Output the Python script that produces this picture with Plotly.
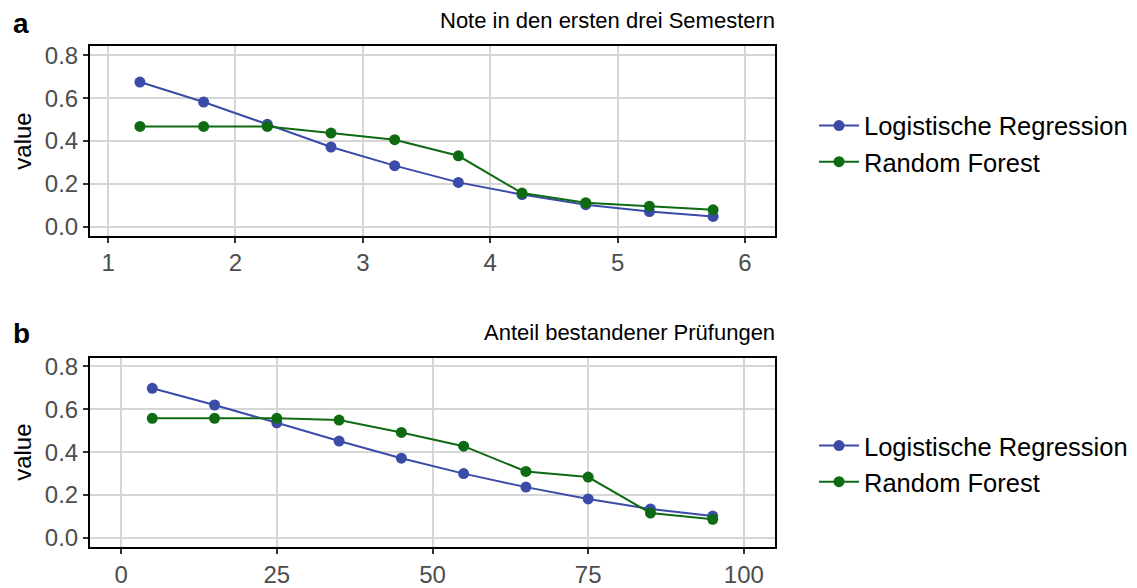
import plotly.graph_objects as go

# Panel a: Note in den ersten drei Semestern
x_a = [1.25, 1.75, 2.25, 2.75, 3.25, 3.75, 4.25, 4.75, 5.25, 5.75]
lr_a = [0.675, 0.582, 0.478, 0.372, 0.285, 0.207, 0.150, 0.103, 0.071, 0.048]
rf_a = [0.468, 0.468, 0.468, 0.437, 0.406, 0.331, 0.157, 0.112, 0.096, 0.079]

# Panel b: Anteil bestandener Prüfungen
x_b = [5, 15, 25, 35, 45, 55, 65, 75, 85, 95]
lr_b = [0.698, 0.620, 0.537, 0.452, 0.372, 0.300, 0.237, 0.182, 0.135, 0.102]
rf_b = [0.558, 0.558, 0.558, 0.550, 0.492, 0.428, 0.310, 0.284, 0.116, 0.087]

series_names = ["Logistische Regression", "Random Forest"]
colors = ["#3A4BA8", "#0F6B12"]

W, H = 1137, 588
OFF = 8  # page body margin offset
FONT = "Liberation Sans, Arial, sans-serif"

def px_x(p):
    return (p - OFF) / W

def px_y(p):
    return 1 - (p - OFF) / H

fig = go.Figure()

panels = [
    (x_a, [lr_a, rf_a], "x", "y", "legend"),
    (x_b, [lr_b, rf_b], "x2", "y2", "legend2"),
]
for xs, ys_list, xa, ya, lg in panels:
    for name, ys, c in zip(series_names, ys_list, colors):
        fig.add_trace(go.Scatter(
            x=xs, y=ys, name=name, mode="lines+markers",
            line=dict(color=c, width=2),
            marker=dict(color=c, size=11),
            xaxis=xa, yaxis=ya, legend=lg,
        ))

xdom = [px_x(90), px_x(775)]
axis_common = dict(
    showline=True, linecolor="black", linewidth=2, mirror=True,
    showgrid=True, gridcolor="#D6D6D6", gridwidth=1.6,
    ticks="outside", ticklen=5, tickwidth=1.5, tickcolor="#333333",
    tickfont=dict(family=FONT, size=24, color="#4D4D4D"),
    zeroline=False,
)
ytitle = dict(text="value", font=dict(family=FONT, size=24, color="black"), standoff=6)

fig.update_layout(
    width=W, height=H,
    margin=dict(l=0, r=0, t=0, b=0),
    plot_bgcolor="white", paper_bgcolor="white",
    font=dict(family=FONT),
    xaxis=dict(domain=xdom, anchor="y", range=[0.858, 6.236],
               tickvals=[1, 2, 3, 4, 5, 6], **axis_common),
    yaxis=dict(domain=[px_y(234), px_y(42)], anchor="x", range=[-0.041, 0.841],
               tickvals=[0, 0.2, 0.4, 0.6, 0.8], tickformat=".1f",
               title=ytitle, **axis_common),
    xaxis2=dict(domain=xdom, anchor="y2", range=[-5, 105],
                tickvals=[0, 25, 50, 75, 100], **axis_common),
    yaxis2=dict(domain=[px_y(550), px_y(358)], anchor="x2", range=[-0.041, 0.841],
                tickvals=[0, 0.2, 0.4, 0.6, 0.8], tickformat=".1f",
                title=ytitle, **axis_common),
    legend=dict(x=px_x(814), y=px_y(141), yanchor="middle", xanchor="left",
                font=dict(family=FONT, size=25.5, color="black"),
                bgcolor="rgba(0,0,0,0)", itemwidth=40, tracegroupgap=0),
    legend2=dict(x=px_x(814), y=px_y(466), yanchor="middle", xanchor="left",
                 font=dict(family=FONT, size=25.5, color="black"),
                 bgcolor="rgba(0,0,0,0)", itemwidth=40, tracegroupgap=0),
    annotations=[
        dict(text="<b>a</b>", x=px_x(11), y=px_y(19), xref="paper", yref="paper",
             xanchor="left", yanchor="middle", showarrow=False,
             font=dict(family=FONT, size=28, color="black")),
        dict(text="Note in den ersten drei Semestern", x=px_x(777), y=px_y(16),
             xref="paper", yref="paper", xanchor="right", yanchor="middle",
             showarrow=False, font=dict(family=FONT, size=22, color="black")),
        dict(text="<b>b</b>", x=px_x(11), y=px_y(333), xref="paper", yref="paper",
             xanchor="left", yanchor="middle", showarrow=False,
             font=dict(family=FONT, size=28, color="black")),
        dict(text="Anteil bestandener Prüfungen", x=px_x(777), y=px_y(332),
             xref="paper", yref="paper", xanchor="right", yanchor="middle",
             showarrow=False, font=dict(family=FONT, size=22, color="black")),
    ],
)

fig.write_html("out.html")
